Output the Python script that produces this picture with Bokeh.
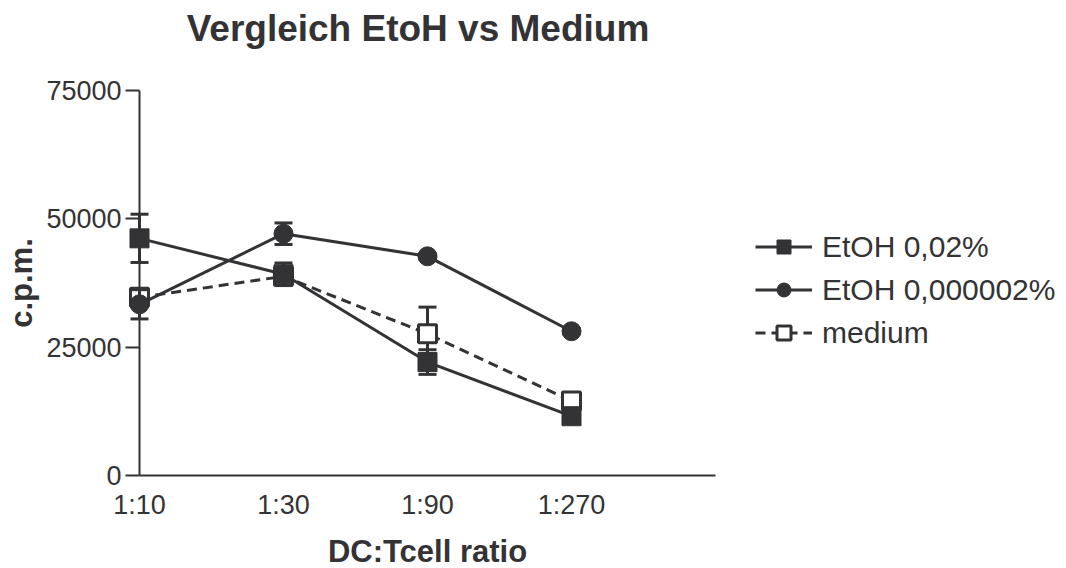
from bokeh.plotting import figure
from bokeh.models import Range1d, FixedTicker, Legend, LegendItem, NumeralTickFormatter
from bokeh.core.properties import value
from bokeh.embed import file_html
from bokeh.resources import INLINE

# ---- data ----
categories = ["1:10", "1:30", "1:90", "1:270"]
etoh_002 = [46200, 39200, 22100, 11550]
etoh_002_err = [4700, 2200, 2400, 400]
etoh_000002 = [33350, 47100, 42700, 28100]
etoh_000002_err = [2850, 2100, 500, 500]
medium = [34700, 38800, 27600, 14500]
medium_err = [1500, 800, 5200, 1000]
y_ticks = [0, 25000, 50000, 75000]
title_text = "Vergleich EtoH vs Medium"

COL = "#333336"
FONT = "Liberation Sans"

xs = list(range(len(categories)))
X_END = 4
Y_END = 75000

p = figure(frame_width=576, frame_height=385, output_backend="svg", toolbar_location=None,
           x_range=Range1d(0, X_END), y_range=Range1d(0, Y_END),
           min_border_left=139, min_border_right=0, min_border_top=90, min_border_bottom=93)
p.outline_line_color = None
p.grid.grid_line_color = None
p.background_fill_color = "white"
p.border_fill_color = "white"

# title drawn as an unclipped text glyph above the frame
p.text(x=[X_END * 0.4835], y=[Y_END * 1.161], text=[title_text], text_font=value(FONT),
       text_font_size="37px", text_font_style="bold", text_color=COL,
       text_align="center", text_baseline="middle", level="overlay")

# axes
xa = p.xaxis[0]
xa.ticker = FixedTicker(ticks=xs)
xa.major_label_overrides = {i: c for i, c in enumerate(categories)}
xa.major_tick_out = 0
xa.major_tick_in = 0
xa.minor_tick_out = 0
xa.minor_tick_in = 0
xa.major_label_standoff = 14
xa.axis_label = "DC:Tcell ratio"
xa.axis_label_standoff = 11

ya = p.yaxis[0]
ya.ticker = FixedTicker(ticks=y_ticks)
ya.formatter = NumeralTickFormatter(format="0")
ya.major_tick_out = 14
ya.major_tick_in = 0
ya.minor_tick_out = 0
ya.minor_tick_in = 0
ya.major_label_standoff = 4
ya.axis_label = "c.p.m."
ya.axis_label_standoff = 4

for ax in (xa, ya):
    ax.axis_line_color = COL
    ax.axis_line_width = 2
    ax.major_tick_line_color = COL
    ax.major_tick_line_width = 2
    ax.major_label_text_font = FONT
    ax.major_label_text_font_size = "27px"
    ax.major_label_text_color = COL
    ax.axis_label_text_font = FONT
    ax.axis_label_text_font_size = "31px"
    ax.axis_label_text_font_style = "bold"
    ax.axis_label_text_color = COL

CAP = 0.0625  # half cap width in x units


def errorbars(vals, errs):
    lo = [v - e for v, e in zip(vals, errs)]
    hi = [v + e for v, e in zip(vals, errs)]
    p.segment(xs, lo, xs, hi, line_color=COL, line_width=3, level="overlay")
    p.segment([x - CAP for x in xs], hi, [x + CAP for x in xs], hi,
              line_color=COL, line_width=3, level="overlay")
    p.segment([x - CAP for x in xs], lo, [x + CAP for x in xs], lo,
              line_color=COL, line_width=3, level="overlay")


# medium (drawn first)
errorbars(medium, medium_err)
l3 = p.line(xs, medium, line_color=COL, line_width=3, line_dash="10 6", level="overlay")
m3 = p.scatter(xs, medium, marker="square", size=18, fill_color="white",
               line_color=COL, line_width=3, level="overlay")

# EtOH 0,000002%
errorbars(etoh_000002, etoh_000002_err)
l2 = p.line(xs, etoh_000002, line_color=COL, line_width=3, level="overlay")
m2 = p.scatter(xs, etoh_000002, marker="circle", size=19, fill_color=COL,
               line_color=COL, line_width=1, level="overlay")

# EtOH 0,02%
errorbars(etoh_002, etoh_002_err)
l1 = p.line(xs, etoh_002, line_color=COL, line_width=3, level="overlay")
m1 = p.scatter(xs, etoh_002, marker="square", size=19, fill_color=COL,
               line_color=COL, line_width=1, level="overlay")

legend = Legend(items=[
    LegendItem(label="EtOH 0,02%", renderers=[l1, m1]),
    LegendItem(label="EtOH 0,000002%", renderers=[l2, m2]),
    LegendItem(label="medium", renderers=[l3, m3]),
], location=(40, 125))
legend.padding = 0
legend.margin = 0
legend.border_line_color = None
legend.background_fill_alpha = 0
legend.label_text_font = FONT
legend.label_text_font_size = "30px"
legend.label_text_color = COL
legend.glyph_width = 57
legend.glyph_height = 35
legend.label_height = 35
legend.spacing = 8
legend.label_standoff = 10
p.add_layout(legend, "right")

open("out.html", "w").write(file_html(p, INLINE))
